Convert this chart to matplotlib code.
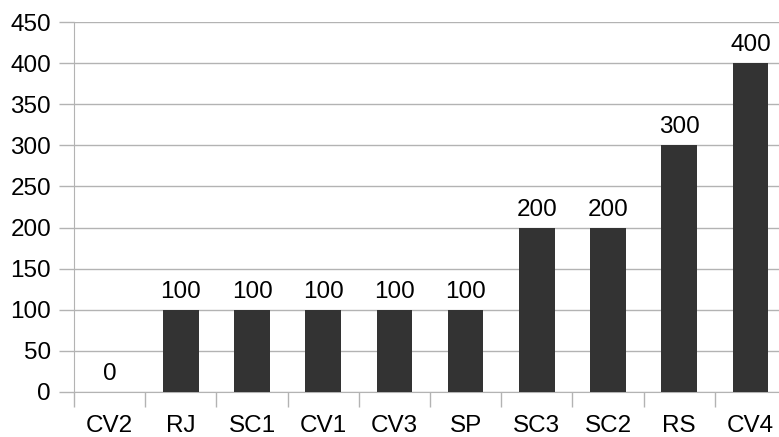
import numpy as np
import matplotlib.pyplot as plt

plt.rcParams['font.family'] = ['Liberation Sans', 'DejaVu Sans']

names = ['CV2', 'RJ', 'SC1', 'CV1', 'CV3', 'SP', 'SC3', 'SC2', 'RS', 'CV4']
counts = [0, 100, 100, 100, 100, 100, 200, 200, 300, 400]
yticks = [0, 50, 100, 150, 200, 250, 300, 350, 400, 450]

W, H = 779, 437
fs = 17.5
fig = plt.figure(figsize=(W / 100, H / 100), dpi=100)
ax = fig.add_axes([74 / W, (H - 391.7) / H, (786 - 74) / W, (391.7 - 22.3) / H])

grid_c = '#b3b3b3'
x = np.arange(len(names))
bars = ax.bar(x, counts, width=0.5, color='#333333', zorder=3)
ax.bar_label(bars, labels=[str(v) for v in counts], padding=5, fontsize=fs, color='black')

ax.set_xlim(-0.5, len(names) - 0.5)
ax.set_ylim(0, 450)
ax.set_yticks(yticks)
ax.yaxis.grid(True, color=grid_c, linewidth=1, zorder=0)
ax.tick_params(axis='y', length=11, width=1, color=grid_c, pad=5.5, labelsize=fs)

# ticks on category boundaries, labels centred under bars
ax.set_xticks(np.arange(len(names) + 1) - 0.5)
ax.set_xticklabels([])
ax.set_xticks(x, minor=True)
ax.set_xticklabels(names, minor=True, fontsize=fs)
ax.tick_params(axis='x', which='major', length=11, width=1, color=grid_c, direction='out')
ax.tick_params(axis='x', which='minor', length=0, pad=17)

for s in ['top', 'right']:
    ax.spines[s].set_visible(False)
ax.spines['left'].set_color(grid_c)
ax.spines['left'].set_bounds(0, 450)
ax.spines['bottom'].set_color(grid_c)

fig.savefig('out.png', dpi=100)
